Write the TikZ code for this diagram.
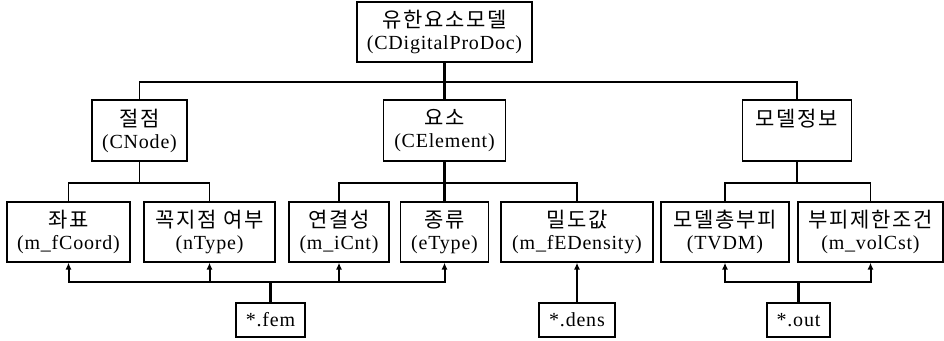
\documentclass[tikz,border=0pt]{standalone}
\usepackage{fontspec}
\setmainfont{Liberation Serif}[LetterSpace=4]
\newfontfamily\kr{Noto Sans CJK KR}[LetterSpace=8,Scale=1.05]
\usetikzlibrary{arrows.meta}
\begin{document}
\begin{tikzpicture}[x=1pt,y=-1pt,
  box/.style={draw,line width=1.2pt,inner sep=0pt,align=center,
    font=\fontsize{20}{22}\selectfont},
  tree/.style={line width=1.3pt},
  heavy/.style={line width=3pt},
  bus/.style={line width=2pt},
  arr/.style={bus,-{Latex[length=7pt,width=6pt]}},
]
\useasboundingbox[fill=white] (0,0) rectangle (944,340);
% level 1
\node[box,minimum width=175pt,minimum height=60pt] (top) at (444.5,32) {{\kr 유한요소모델}\\(CDigitalProDoc)};
% level 2
\node[box,minimum width=95pt,minimum height=61pt] (cnode) at (139.5,130.5) {{\kr 절점}\\(CNode)};
\node[box,minimum width=122pt,minimum height=61pt] (elem) at (444.5,130.5) {{\kr 요소}\\(CElement)};
\node[box,minimum width=109pt,minimum height=61pt] (model) at (797,130.5) {{\kr 모델정보}\\\phantom{(C)}};
% level 3
\node[box,minimum width=123pt,minimum height=60pt] (zapyo) at (68.5,232) {{\kr 좌표}\\(m\_fCoord)};
\node[box,minimum width=131pt,minimum height=60pt] (kkoj) at (209.5,232) {{\kr 꼭지점 여부}\\(nType)};
\node[box,minimum width=100pt,minimum height=60pt] (yeon) at (339,232) {{\kr 연결성}\\(m\_iCnt)};
\node[box,minimum width=88pt,minimum height=60pt] (jong) at (444.5,232) {{\kr 종류}\\(eType)};
\node[box,minimum width=152pt,minimum height=60pt] (mildo) at (577,232) {{\kr 밀도값}\\(m\_fEDensity)};
\node[box,minimum width=128pt,minimum height=60pt] (chong) at (725,232) {{\kr 모델총부피}\\(TVDM)};
\node[box,minimum width=145pt,minimum height=60pt] (bupi) at (870.5,232) {{\kr 부피제한조건}\\(m\_volCst)};
% files
\node[box,minimum width=69pt,minimum height=34pt] (fem) at (270.5,320) {*.fem};
\node[box,minimum width=76pt,minimum height=34pt] (dens) at (577,320) {*.dens};
\node[box,minimum width=63pt,minimum height=34pt] (out) at (798.5,320) {*.out};
% tree connectors
\coordinate (topbus) at (444.5,82);
\coordinate (cbus) at (139.5,183);
\coordinate (ebus) at (444.5,183);
\coordinate (mbus) at (797,183);
\draw[heavy] (top.south) -- (elem.north);
\draw[tree] (cnode.north) |- (topbus) -| (model.north);
\draw[tree] (cnode.south) -- (cbus);
\draw[tree] (zapyo.north) |- (cbus) -| (kkoj.north);
\draw[heavy] (elem.south) -- (jong.north);
\draw[tree] (yeon.north) |- (ebus) -| (mildo.north);
\draw[tree] (model.south) -- (mbus);
\draw[tree] (chong.north) |- (mbus) -| (bupi.north);
% file arrows
\coordinate (fbus) at (270.5,282);
\coordinate (obus) at (798.5,282);
\draw[heavy] (fem.north) -- (fbus);
\draw[arr] (fbus) -| (zapyo.south);
\draw[arr] (fbus) -| (kkoj.south);
\draw[arr] (fbus) -| (yeon.south);
\draw[arr] (fbus) -| (jong.south);
\draw[arr] (dens.north) -- (mildo.south);
\draw[heavy] (out.north) -- (obus);
\draw[arr] (obus) -| (chong.south);
\draw[arr] (obus) -| (bupi.south);
\end{tikzpicture}
\end{document}
